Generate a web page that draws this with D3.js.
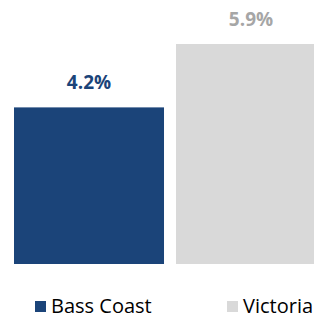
<!DOCTYPE html>
<html>
<head>
<meta charset="utf-8">
<script src="https://cdn.jsdelivr.net/npm/d3@7"></script>
<style>
  html, body { margin: 0; padding: 0; background: #fff; overflow: hidden; }
  svg { display: block; }
</style>
</head>
<body>
<svg width="314" height="315"></svg>
<script>
const categories = ["Bass Coast", "Victoria"];
const values = [4.2, 5.9];
const colours = ["#1B4479", "#D9D9D9"];
const labelColours = ["#1B4479", "#A6A6A6"];

const svg = d3.select("svg");
const font = "'Open Sans', sans-serif";

const x = d3.scaleBand()
  .domain(categories)
  .range([14, 326])
  .paddingInner(0.074)
  .paddingOuter(0);

const y = d3.scaleLinear()
  .domain([0, 5.9])
  .range([264, 44]);

const data = categories.map((c, i) => ({ name: c, value: values[i], colour: colours[i], label: labelColours[i] }));

svg.append("g").selectAll("rect")
  .data(data)
  .join("rect")
  .attr("x", d => x(d.name))
  .attr("y", d => y(d.value))
  .attr("width", x.bandwidth())
  .attr("height", d => y(0) - y(d.value))
  .attr("fill", d => d.colour);

svg.append("g").selectAll("text")
  .data(data)
  .join("text")
  .attr("x", d => x(d.name) + x.bandwidth() / 2)
  .attr("y", d => y(d.value) - 18)
  .attr("text-anchor", "middle")
  .style("font", `bold 19px ${font}`)
  .attr("fill", d => d.label)
  .text(d => d.value.toFixed(1) + "%");

// legend
const legendX = [35, 227];
const leg = svg.append("g").selectAll("g")
  .data(data)
  .join("g")
  .attr("transform", (d, i) => `translate(${legendX[i]},0)`);

leg.append("rect")
  .attr("x", 0)
  .attr("y", 301)
  .attr("width", 11)
  .attr("height", 11)
  .attr("fill", d => d.colour);

leg.append("text")
  .attr("x", 16)
  .attr("y", 313)
  .style("font", `20px ${font}`)
  .attr("fill", "#000")
  .text(d => d.name);
</script>
</body>
</html>
